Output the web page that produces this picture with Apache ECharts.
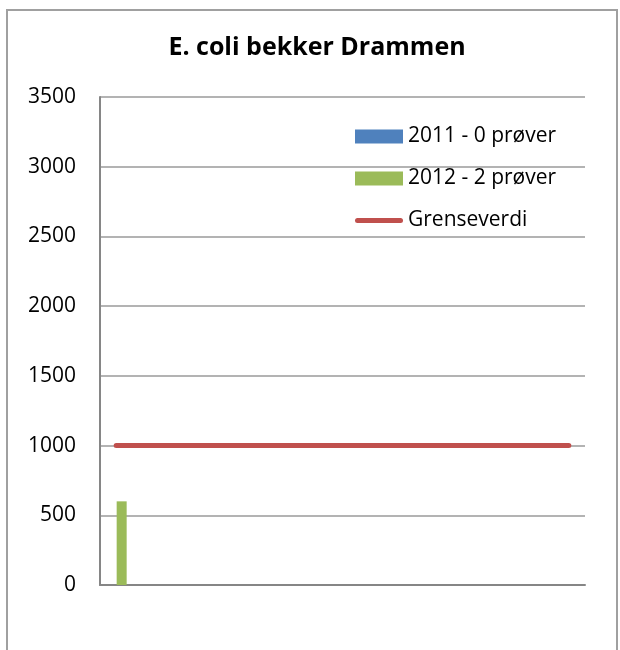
<!DOCTYPE html>
<html>
<head>
<meta charset="utf-8">
<title>E. coli bekker Drammen</title>
<script src="https://cdn.jsdelivr.net/npm/echarts@6.0.0/dist/echarts.min.js"></script>
<style>
  html, body { margin: 0; padding: 0; background: #fff; }
  #chart { width: 620px; height: 650px; }
</style>
</head>
<body>
<div id="chart"></div>
<script>
// bekker (navn vises ikke i figuren)
const categories = ['B1', 'B2', 'B3', 'B4', 'B5', 'B6', 'B7', 'B8', 'B9', 'B10', 'B11', 'B12', 'B13', 'B14', 'B15'];
// 2011 - ingen prøver
const values2011 = [null, null, null, null, null, null, null, null, null, null, null, null, null, null, null];
// 2012 - 2 prøver
const values2012 = [600, null, null, null, null, null, null, null, null, null, null, null, null, null, null];
// grenseverdi
const limitValues = [1000, 1000, 1000, 1000, 1000, 1000, 1000, 1000, 1000, 1000, 1000, 1000, 1000, 1000, 1000];
const seriesNames = ['2011 - 0 prøver', '2012 - 2 prøver', 'Grenseverdi'];

const FONT = '"Open Sans", "Noto Sans", sans-serif';

const chart = echarts.init(document.getElementById('chart'));

chart.setOption({
    animation: false,
    backgroundColor: '#fff',
    title: {
        text: 'E. coli bekker Drammen',
        left: 312,
        top: 30,
        textAlign: 'center',
        textStyle: {
            fontFamily: FONT,
            fontSize: 25,
            fontWeight: 'bold',
            color: '#000'
        }
    },
    // ramme rundt diagrammet
    graphic: [{
        type: 'rect',
        shape: { x: 7, y: 10, width: 610, height: 700 },
        style: { fill: null, stroke: '#a0a0a0', lineWidth: 2 },
        silent: true
    }],
    legend: {
        orient: 'vertical',
        left: 355,
        top: 126,
        padding: 0,
        itemWidth: 48,
        itemHeight: 14,
        itemGap: 21,
        data: [
            { name: seriesNames[0], icon: 'rect' },
            { name: seriesNames[1], icon: 'rect' },
            { name: seriesNames[2], icon: 'path://M2.5,0 L45.5,0 A2.5,2.5 0 0 1 45.5,5 L2.5,5 A2.5,2.5 0 0 1 2.5,0 Z' }
        ],
        textStyle: {
            fontFamily: FONT,
            fontSize: 21,
            color: '#000'
        }
    },
    grid: {
        left: 100,
        right: 35,
        top: 97,
        bottom: 65
    },
    xAxis: {
        type: 'category',
        data: categories,
        axisLine: { lineStyle: { color: '#868686', width: 2 } },
        axisTick: { show: false },
        axisLabel: { show: false },
        splitLine: { show: false }
    },
    yAxis: {
        type: 'value',
        min: 0,
        max: 3500,
        interval: 500,
        axisLine: { show: true, lineStyle: { color: '#868686', width: 2 } },
        axisTick: { show: false },
        axisLabel: {
            margin: 24,
            fontFamily: FONT,
            fontSize: 21,
            color: '#000',
            formatter: function (v) { return String(v); }
        },
        splitLine: { lineStyle: { color: '#9a9a9a', width: 1.5 } }
    },
    series: [
        {
            name: seriesNames[0],
            type: 'bar',
            data: values2011,
            barWidth: 10,
            barGap: '10%',
            itemStyle: { color: '#4f81bd' }
        },
        {
            name: seriesNames[1],
            type: 'bar',
            data: values2012,
            barWidth: 10,
            itemStyle: { color: '#9bbb59' }
        },
        {
            name: seriesNames[2],
            type: 'line',
            data: limitValues,
            symbol: 'none',
            z: 5,
            itemStyle: { color: '#c0504d' },
            lineStyle: { color: '#c0504d', width: 5, cap: 'round' }
        }
    ]
});
</script>
</body>
</html>
